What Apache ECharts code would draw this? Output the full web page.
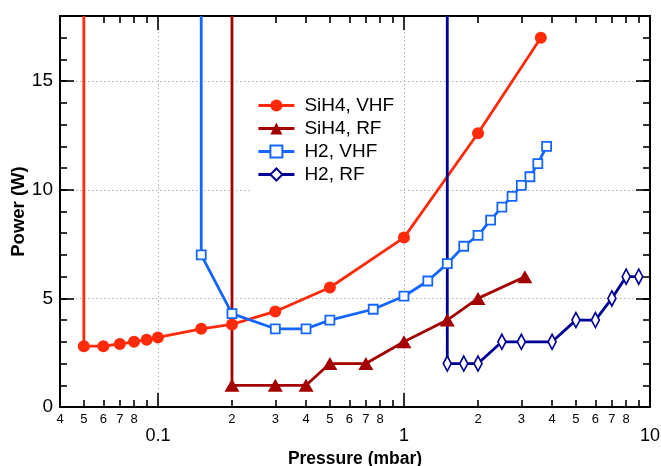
<!DOCTYPE html>
<html>
<head>
<meta charset="utf-8">
<script src="https://cdn.jsdelivr.net/npm/echarts@6/dist/echarts.min.js"></script>
<style>html,body{margin:0;padding:0;background:#fff}#c{width:661px;height:466px}</style>
</head>
<body>
<div id="c"></div>
<script>
// ---- data ----
const sih4VhfX = [0.05, 0.05, 0.06, 0.07, 0.08, 0.09, 0.1, 0.15, 0.2, 0.3, 0.5, 1.0, 2.0, 3.6];
const sih4VhfY = [18, 2.8, 2.8, 2.9, 3.0, 3.1, 3.2, 3.6, 3.8, 4.4, 5.5, 7.8, 12.6, 17.0];
const sih4RfX = [0.2, 0.2, 0.3, 0.4, 0.5, 0.7, 1.0, 1.5, 2.0, 3.1];
const sih4RfY = [18, 1.0, 1.0, 1.0, 2.0, 2.0, 3.0, 4.0, 5.0, 6.0];
const h2VhfX = [0.15, 0.15, 0.2, 0.3, 0.4, 0.5, 0.75, 1.0, 1.25, 1.5, 1.75, 2.0, 2.25, 2.5, 2.75, 3.0, 3.25, 3.5, 3.8];
const h2VhfY = [18, 7.0, 4.3, 3.6, 3.6, 4.0, 4.5, 5.1, 5.8, 6.6, 7.4, 7.9, 8.6, 9.2, 9.7, 10.2, 10.6, 11.2, 12.0];
const h2RfX = [1.5, 1.5, 1.75, 2.0, 2.5, 3.0, 4.0, 5.0, 6.0, 7.0, 8.0, 9.0];
const h2RfY = [18, 2.0, 2.0, 2.0, 3.0, 3.0, 3.0, 4.0, 4.0, 5.0, 6.0, 6.0];
const seriesNames = ['SiH4, VHF', 'SiH4, RF', 'H2, VHF', 'H2, RF'];
const xMinorTicks = [0.04,0.05,0.06,0.07,0.08,0.09,0.2,0.3,0.4,0.5,0.6,0.7,0.8,0.9,2,3,4,5,6,7,8,9];
const xMinorLabels = [0.04,0.05,0.06,0.07,0.08,0.2,0.3,0.4,0.5,0.6,0.7,0.8,2,3,4,5,6,7,8];
const xMajorTicks = [0.1, 1];
const xMajorLabels = [0.1, 1, 10];
const yMajor = [0, 5, 10, 15];

// ---- chart ----
const FONT = '"Liberation Sans", Arial, sans-serif';
const AX = '#000';
function pts(xs, ys) {
  return xs.map((x, i) => i === 0 ? {value: [x, ys[i]], symbol: 'none'} : [x, ys[i]]);
}
function mant(v) {
  const e = Math.floor(Math.log10(v) + 1e-9);
  return String(Math.round(v / Math.pow(10, e)));
}
function xAx(pos, ticks, len, labels, extra) {
  return Object.assign({
    type: 'log', logBase: 10, min: 0.04, max: 10, position: pos,
    axisLine: {show: true, onZero: false, lineStyle: {color: AX, width: 2}},
    axisTick: {show: true, inside: true, length: len, customValues: ticks, lineStyle: {color: AX, width: 1.6}},
    axisLabel: labels ? labels : {show: false},
    splitLine: {show: false},
    minorTick: {show: false}
  }, extra || {});
}
function yAx(pos, ticks, len, labels, extra) {
  return Object.assign({
    type: 'value', min: 0, max: 18, position: pos,
    axisLine: {show: true, onZero: false, lineStyle: {color: AX, width: 2}},
    axisTick: {show: true, inside: true, length: len, customValues: ticks, lineStyle: {color: AX, width: 1.6}},
    axisLabel: labels ? labels : {show: false},
    splitLine: {show: false}
  }, extra || {});
}
const yMinor = [];
for (let v = 0; v <= 18; v++) yMinor.push(v);
const GRIDLINE = {show: true, lineStyle: {color: '#b0b0b0', type: [1.5, 2.5], width: 1}};

const chart = echarts.init(document.getElementById('c'), null, {renderer: 'canvas'});
chart.setOption({
  animation: false,
  backgroundColor: '#fff',
  textStyle: {fontFamily: FONT},
  grid: {left: 60, right: 11, top: 16, bottom: 59, containLabel: false, outerBoundsMode: 'none'},
  xAxis: [
    xAx('bottom', xMinorTicks, 7, {show: true, customValues: xMinorLabels, formatter: v => mant(v), fontSize: 13, color: '#000', margin: 6, fontFamily: FONT}),
    xAx('bottom', xMajorTicks, 14, {show: true, customValues: xMajorLabels, formatter: v => (v < 1 ? '0.1' : String(Math.round(v))), fontSize: 18, color: '#000', margin: 20, fontFamily: FONT},
      {name: 'Pressure (mbar)', nameLocation: 'middle', nameGap: 39, nameTextStyle: {fontSize: 17.5, fontWeight: 'bold', color: '#000', fontFamily: FONT},
       splitLine: GRIDLINE}),
    xAx('top', xMinorTicks, 7, null),
    xAx('top', xMajorTicks, 14, null)
  ],
  yAxis: [
    yAx('left', yMinor, 7, null),
    yAx('left', yMajor, 14, {show: true, customValues: yMajor, fontSize: 19, color: '#000', margin: 7, fontFamily: FONT},
      {name: 'Power (W)', nameLocation: 'middle', nameGap: 32, nameMoveOverlap: false, nameRotate: 90, nameTextStyle: {fontSize: 18.5, fontWeight: 'bold', color: '#000', fontFamily: FONT},
       splitLine: GRIDLINE}),
    yAx('right', yMinor, 7, null),
    yAx('right', yMajor, 14, null)
  ],
  legend: {
    orient: 'vertical', left: 250, top: 89,
    backgroundColor: '#fff', padding: [7, 6, 10, 7],
    itemWidth: 36, itemHeight: 15, itemGap: 4,
    lineStyle: {width: 2.8},
    textStyle: {fontSize: 19, color: '#000', fontFamily: FONT, padding: [0, 0, 0, 5]},
    data: seriesNames
  },
  series: [
    {name: seriesNames[0], type: 'line', data: pts(sih4VhfX, sih4VhfY), symbol: 'circle', symbolSize: 12,
     lineStyle: {color: '#ff2a0a', width: 2.8}, itemStyle: {color: '#ff2a0a'}},
    {name: seriesNames[1], type: 'line', data: pts(sih4RfX, sih4RfY), symbol: 'triangle', symbolSize: [15, 13],
     lineStyle: {color: '#a30000', width: 2.8}, itemStyle: {color: '#a30000'}},
    {name: seriesNames[2], type: 'line', data: pts(h2VhfX, h2VhfY), symbol: 'rect', symbolSize: 9,
     lineStyle: {color: '#1466ff', width: 2.8}, itemStyle: {color: '#fff', borderColor: '#1466ff', borderWidth: 1.8}},
    {name: seriesNames[3], type: 'line', data: pts(h2RfX, h2RfY), symbol: 'diamond', symbolSize: [8, 15],
     lineStyle: {color: '#000096', width: 2.8}, itemStyle: {color: '#fff', borderColor: '#000096', borderWidth: 1.8}}
  ]
});
</script>
</body>
</html>
